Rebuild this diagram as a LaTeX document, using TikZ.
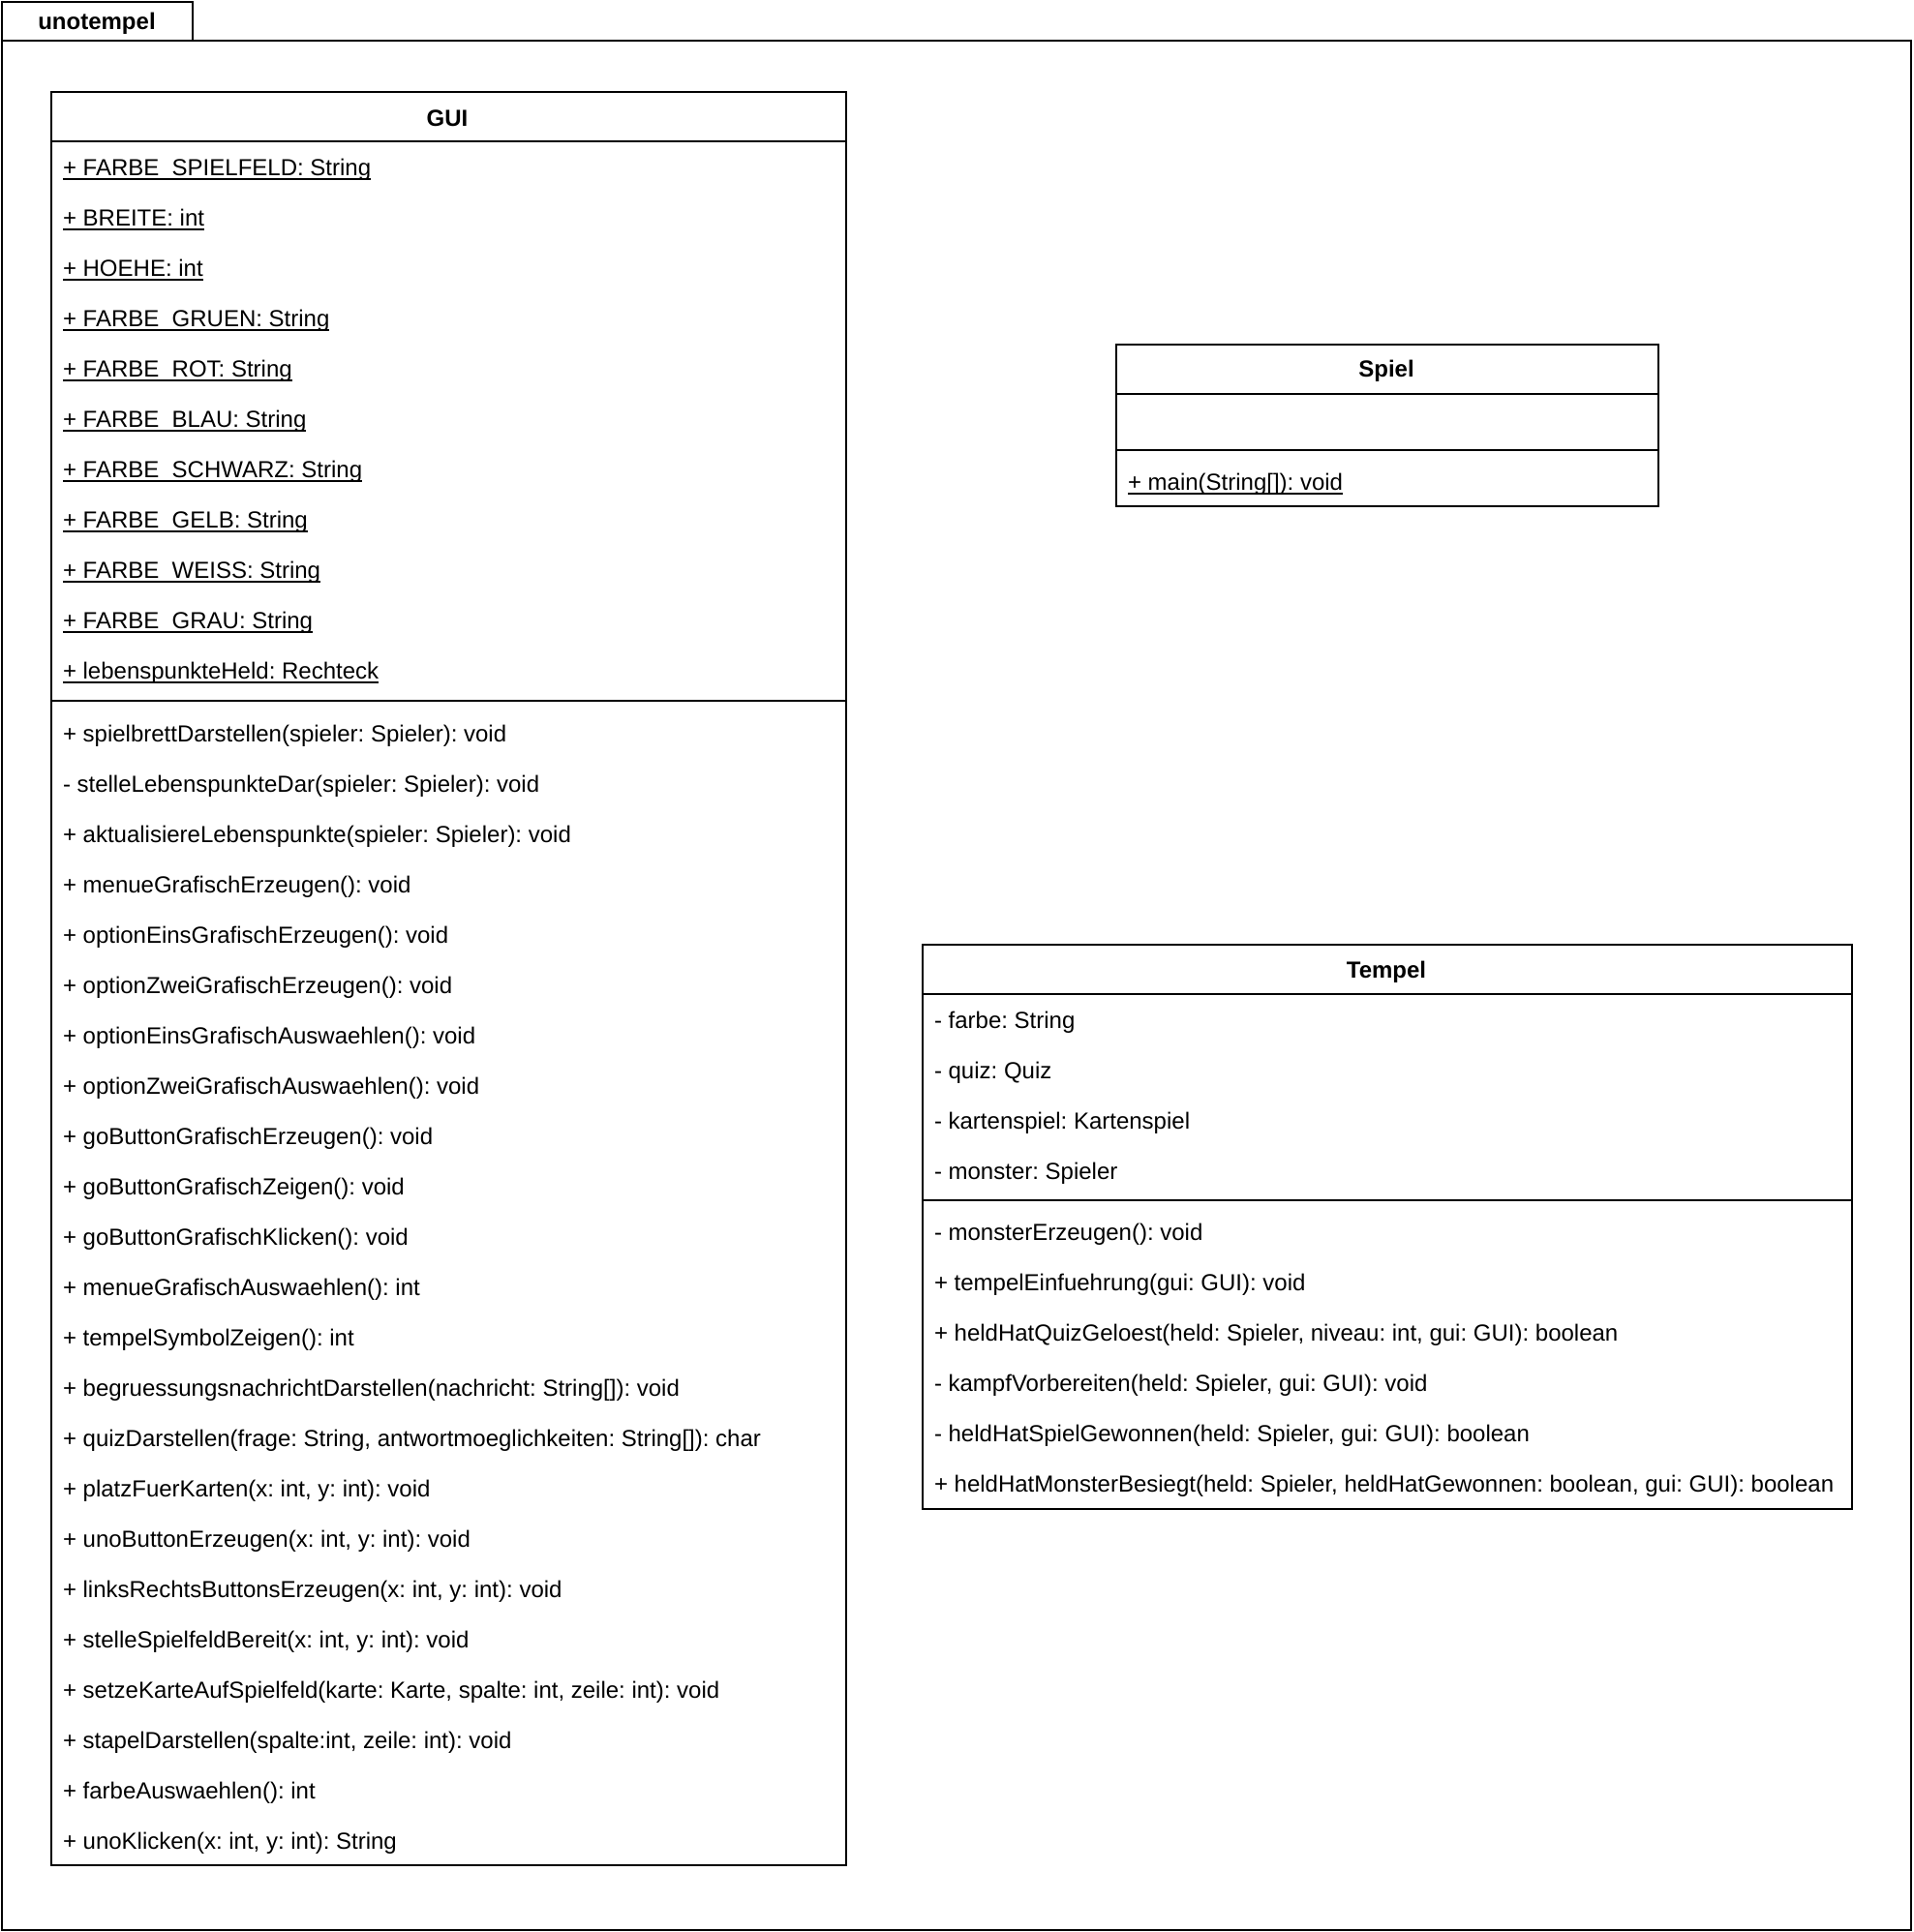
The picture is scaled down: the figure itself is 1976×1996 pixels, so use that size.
\documentclass[tikz,border=0pt]{standalone}
\usepackage{fontspec}
\setmainfont{Liberation Sans}
\frenchspacing
\newcommand\stat[1]{\setbox0=\hbox{#1}\rlap{\rule[-0.17em]{\wd0}{0.07em}}\box0}

\begin{document}
\begin{tikzpicture}[x=1pt,y=-1pt,line width=2pt,font=\fontsize{24}{28}\selectfont]

\tikzstyle{cls}=[draw,anchor=north west,inner sep=0pt];
\tikzstyle{title}=[font=\fontsize{24}{28}\selectfont\bfseries];
\tikzstyle{mem}=[anchor=mid west,inner sep=0pt];

\useasboundingbox (0,0) rectangle (1976,1996);

% package frame
\node (pkg) [cls,minimum width=1972pt,minimum height=1952pt] at (1,41) {};
\node (tab) [cls,minimum width=197pt,minimum height=40pt] at (1,1) {};
\node [title] (tabt) at (100,24) {unotempel};

% GUI
\node (gui) [cls,minimum width=821pt,minimum height=1832pt] at (52,94) {};
\node [title] (guit) at (462,122) {GUI};
\draw (52,146) -- (873,146);
\node [mem] (g1) at (64,179) {\stat{+ FARBE\_SPIELFELD: String}};
\node [mem] (g2) at (64,231) {\stat{+ BREITE: int}};
\node [mem] (g3) at (64,283) {\stat{+ HOEHE: int}};
\node [mem] (g4) at (64,335) {\stat{+ FARBE\_GRUEN: String}};
\node [mem] (g5) at (64,387) {\stat{+ FARBE\_ROT: String}};
\node [mem] (g6) at (64,439) {\stat{+ FARBE\_BLAU: String}};
\node [mem] (g7) at (64,491) {\stat{+ FARBE\_SCHWARZ: String}};
\node [mem] (g8) at (64,543) {\stat{+ FARBE\_GELB: String}};
\node [mem] (g9) at (64,595) {\stat{+ FARBE\_WEISS: String}};
\node [mem] (g10) at (64,647) {\stat{+ FARBE\_GRAU: String}};
\node [mem] (g11) at (64,699) {\stat{+ lebenspunkteHeld: Rechteck}};
\draw (52,724) -- (873,724);
\node [mem] (gm1) at (64,764) {+ spielbrettDarstellen(spieler: Spieler): void};
\node [mem] (gm2) at (64,816) {- stelleLebenspunkteDar(spieler: Spieler): void};
\node [mem] (gm3) at (64,868) {+ aktualisiereLebenspunkte(spieler: Spieler): void};
\node [mem] (gm4) at (64,920) {+ menueGrafischErzeugen(): void};
\node [mem] (gm5) at (64,972) {+ optionEinsGrafischErzeugen(): void};
\node [mem] (gm6) at (64,1024) {+ optionZweiGrafischErzeugen(): void};
\node [mem] (gm7) at (64,1076) {+ optionEinsGrafischAuswaehlen(): void};
\node [mem] (gm8) at (64,1128) {+ optionZweiGrafischAuswaehlen(): void};
\node [mem] (gm9) at (64,1180) {+ goButtonGrafischErzeugen(): void};
\node [mem] (gm10) at (64,1232) {+ goButtonGrafischZeigen(): void};
\node [mem] (gm11) at (64,1284) {+ goButtonGrafischKlicken(): void};
\node [mem] (gm12) at (64,1336) {+ menueGrafischAuswaehlen(): int};
\node [mem] (gm13) at (64,1388) {+ tempelSymbolZeigen(): int};
\node [mem] (gm14) at (64,1440) {+ begruessungsnachrichtDarstellen(nachricht: String[]): void};
\node [mem] (gm15) at (64,1492) {+ quizDarstellen(frage: String, antwortmoeglichkeiten: String[]): char};
\node [mem] (gm16) at (64,1544) {+ platzFuerKarten(x: int, y: int): void};
\node [mem] (gm17) at (64,1596) {+ unoButtonErzeugen(x: int, y: int): void};
\node [mem] (gm18) at (64,1648) {+ linksRechtsButtonsErzeugen(x: int, y: int): void};
\node [mem] (gm19) at (64,1700) {+ stelleSpielfeldBereit(x: int, y: int): void};
\node [mem] (gm20) at (64,1752) {+ setzeKarteAufSpielfeld(karte: Karte, spalte: int, zeile: int): void};
\node [mem] (gm21) at (64,1804) {+ stapelDarstellen(spalte:int, zeile: int): void};
\node [mem] (gm22) at (64,1856) {+ farbeAuswaehlen(): int};
\node [mem] (gm23) at (64,1908) {+ unoKlicken(x: int, y: int): String};

% Spiel
\node (spiel) [cls,minimum width=560pt,minimum height=167pt] at (1152,355) {};
\node [title] (spielt) at (1432,383) {Spiel};
\draw (1152,407) -- (1712,407);
\draw (1152,465) -- (1712,465);
\node [mem] (sm1) at (1164,504) {\stat{+ main(String[]): void}};

% Tempel
\node (tempel) [cls,minimum width=960pt,minimum height=583pt] at (952,975) {};
\node [title] (tempelt) at (1432,1004) {Tempel};
\draw (952,1027) -- (1912,1027);
\node [mem] (t1) at (964,1060) {- farbe: String};
\node [mem] (t2) at (964,1112) {- quiz: Quiz};
\node [mem] (t3) at (964,1164) {- kartenspiel: Kartenspiel};
\node [mem] (t4) at (964,1216) {- monster: Spieler};
\draw (952,1240) -- (1912,1240);
\node [mem] (tm1) at (964,1279) {- monsterErzeugen(): void};
\node [mem] (tm2) at (964,1331) {+ tempelEinfuehrung(gui: GUI): void};
\node [mem] (tm3) at (964,1383) {+ heldHatQuizGeloest(held: Spieler, niveau: int, gui: GUI): boolean};
\node [mem] (tm4) at (964,1435) {- kampfVorbereiten(held: Spieler, gui: GUI): void};
\node [mem] (tm5) at (964,1487) {- heldHatSpielGewonnen(held: Spieler, gui: GUI): boolean};
\node [mem] (tm6) at (964,1539) {+ heldHatMonsterBesiegt(held: Spieler, heldHatGewonnen: boolean, gui: GUI): boolean};
\end{tikzpicture}
\end{document}
